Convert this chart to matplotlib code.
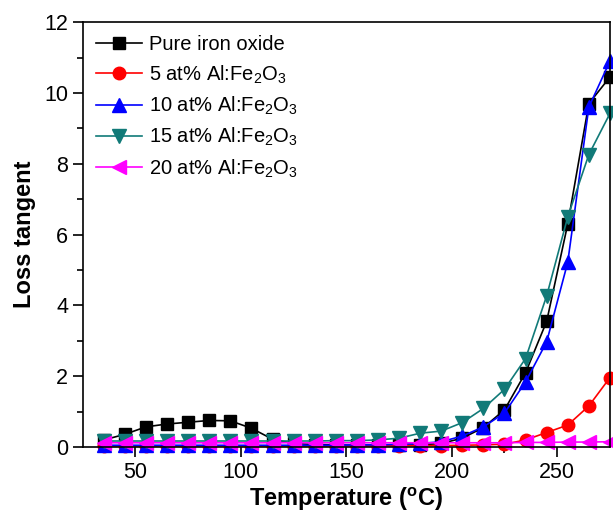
import matplotlib.pyplot as plt
import numpy as np

plt.rcParams['font.family'] = ['Liberation Sans', 'DejaVu Sans']
plt.rcParams['mathtext.fontset'] = 'custom'
plt.rcParams['mathtext.rm'] = 'Liberation Sans'
plt.rcParams['mathtext.bf'] = 'Liberation Sans:bold'

# temperature (degC)
temp = [35, 45, 55, 65, 75, 85, 95, 105, 115, 125, 135, 145, 155, 165, 175,
        185, 195, 205, 215, 225, 235, 245, 255, 265, 275]

pure = [0.2, 0.36, 0.57, 0.65, 0.7, 0.75, 0.74, 0.53, 0.22, 0.1, 0.07, 0.06,
        0.05, 0.05, 0.05, 0.06, 0.1, 0.25, 0.55, 1.05, 2.1, 3.55, 6.3, 9.7, 10.45]
al5 = [0.03, 0.03, 0.03, 0.03, 0.03, 0.03, 0.03, 0.03, 0.03, 0.03, 0.03, 0.03,
       0.03, 0.03, 0.03, 0.04, 0.04, 0.05, 0.06, 0.08, 0.2, 0.41, 0.62, 1.16, 1.96]
al10 = [0.05, 0.05, 0.05, 0.05, 0.05, 0.05, 0.05, 0.05, 0.05, 0.05, 0.05, 0.05,
        0.06, 0.06, 0.08, 0.1, 0.15, 0.31, 0.57, 0.96, 1.84, 2.97, 5.22, 9.6, 10.9]
al15 = [0.17, 0.17, 0.17, 0.17, 0.17, 0.17, 0.17, 0.17, 0.17, 0.17, 0.17, 0.18,
        0.18, 0.2, 0.25, 0.39, 0.45, 0.69, 1.09, 1.63, 2.5, 4.27, 6.5, 8.26, 9.42]
al20 = [0.12, 0.12, 0.12, 0.12, 0.12, 0.12, 0.12, 0.12, 0.12, 0.12, 0.12, 0.12,
        0.12, 0.12, 0.12, 0.12, 0.12, 0.12, 0.12, 0.12, 0.13, 0.13, 0.14, 0.14, 0.15]

labels = ['Pure iron oxide',
          '5 at% Al:Fe$_\\mathregular{2}$O$_\\mathregular{3}$',
          '10 at% Al:Fe$_\\mathregular{2}$O$_\\mathregular{3}$',
          '15 at% Al:Fe$_\\mathregular{2}$O$_\\mathregular{3}$',
          '20 at% Al:Fe$_\\mathregular{2}$O$_\\mathregular{3}$']

fig = plt.figure(figsize=(6.13, 5.15), dpi=100)
ax = fig.add_axes([0.135, 0.132, 0.86, 0.825])

ax.plot(temp, pure, '-s', color='black', lw=1.2, ms=8.5, label=labels[0], clip_on=False)
ax.plot(temp, al5, '-o', color='red', lw=1.2, ms=9, label=labels[1], clip_on=False)
ax.plot(temp, al10, '-^', color='blue', lw=1.2, ms=9.5, label=labels[2], clip_on=False)
ax.plot(temp, al15, '-v', color='#117a78', lw=1.2, ms=9.5, label=labels[3], clip_on=False)
ax.plot(temp, al20, '-<', color='magenta', lw=1.2, ms=9.5, label=labels[4], clip_on=False)

ax.set_xlim(25, 275)
ax.set_ylim(0, 12)
ax.set_xticks([50, 100, 150, 200, 250])
ax.set_xticks([75, 125, 175, 225], minor=True)
ax.set_yticks([0, 2, 4, 6, 8, 10, 12])
ax.set_yticks([1, 3, 5, 7, 9, 11], minor=True)
ax.tick_params(which='major', direction='out', length=7, width=1.2, labelsize=15.5,
               top=False, right=False)
ax.tick_params(which='minor', direction='out', length=4, width=1.2, top=False, right=False)
for s in ax.spines.values():
    s.set_linewidth(1.2)

ax.set_xlabel('Temperature ($^\\mathregular{o}$C)', fontsize=17, fontweight='bold', labelpad=2)
ax.set_ylabel('Loss tangent', fontsize=17, fontweight='bold', labelpad=6)

ax.legend(loc='upper left', fontsize=14.5, frameon=False, handlelength=2.3,
          labelspacing=0.45, borderaxespad=0.35, handletextpad=0.35,
          borderpad=0.3)

fig.savefig('out.png', dpi=100)
